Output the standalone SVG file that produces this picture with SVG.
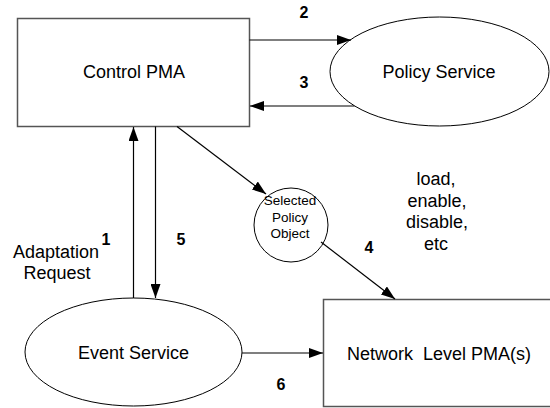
<svg xmlns="http://www.w3.org/2000/svg" width="550" height="408" viewBox="0 0 550 408">
<style>
  .box { fill: #fff; stroke: #555; stroke-width: 1.5; }
  .ell { fill: #fff; stroke: #000; stroke-width: 1; }
  .lbl { font-family: "Liberation Sans", Arial, sans-serif; font-size: 18px; fill: #000; text-anchor: middle; }
  .sm { font-family: "Liberation Sans", Arial, sans-serif; font-size: 13.5px; fill: #000; text-anchor: middle; }
  .num { font-family: "Liberation Sans", Arial, sans-serif; font-size: 16px; font-weight: bold; fill: #000; text-anchor: middle; }
  .conn { stroke: #000; stroke-width: 1.2; fill: none; marker-end: url(#ah); }
</style>
<defs>
  <marker id="ah" viewBox="0 0 14 10" refX="14" refY="5" markerWidth="14" markerHeight="10" markerUnits="userSpaceOnUse" orient="auto">
    <path d="M0,0 L14,5 L0,10 z" fill="#000"/>
  </marker>
</defs>
<rect width="550" height="408" fill="#fff"/>
<g id="control-pma">
  <rect class="box" x="17.5" y="18.5" width="232" height="108"/>
  <text class="lbl" x="134" y="78">Control PMA</text>
</g>
<g id="policy-service">
  <ellipse class="ell" cx="439.5" cy="71.5" rx="109.5" ry="54.5"/>
  <text class="lbl" x="439" y="78">Policy Service</text>
</g>
<g id="event-service">
  <ellipse class="ell" cx="133.5" cy="352" rx="108.5" ry="54"/>
  <text class="lbl" x="133.5" y="359">Event Service</text>
</g>
<g id="network-pma">
  <rect class="box" x="323.5" y="299.5" width="240" height="107"/>
  <text class="lbl" x="439" y="360" xml:space="preserve">Network  Level PMA(s)</text>
</g>
<g id="selected-policy-object">
  <circle class="ell" cx="291" cy="225" r="37"/>
  <text class="sm" x="290" y="205">Selected</text>
  <text class="sm" x="290" y="221.5">Policy</text>
  <text class="sm" x="290" y="237.5">Object</text>
</g>
<g id="connectors">
  <line class="conn" x1="249.5" y1="40" x2="351" y2="40"/>
  <line class="conn" x1="354.5" y1="106" x2="250" y2="106"/>
  <line class="conn" x1="133.5" y1="298" x2="133.5" y2="127"/>
  <line class="conn" x1="155.5" y1="126.5" x2="155.5" y2="298"/>
  <line class="conn" x1="177" y1="126.5" x2="266" y2="194"/>
  <line class="conn" x1="321" y1="242" x2="395" y2="299"/>
  <line class="conn" x1="242" y1="353" x2="323" y2="353"/>
</g>
<g id="labels">
  <text class="num" x="304" y="18">2</text>
  <text class="num" x="304" y="88">3</text>
  <text class="num" x="106" y="245">1</text>
  <text class="num" x="181" y="245">5</text>
  <text class="num" x="369" y="253">4</text>
  <text class="num" x="281" y="390">6</text>
  <text class="lbl" x="56" y="258">Adaptation</text>
  <text class="lbl" x="57" y="279">Request</text>
  <text class="lbl" x="436" y="185">load,</text>
  <text class="lbl" x="437" y="207">enable,</text>
  <text class="lbl" x="437" y="228">disable,</text>
  <text class="lbl" x="436" y="250">etc</text>
</g>
</svg>
